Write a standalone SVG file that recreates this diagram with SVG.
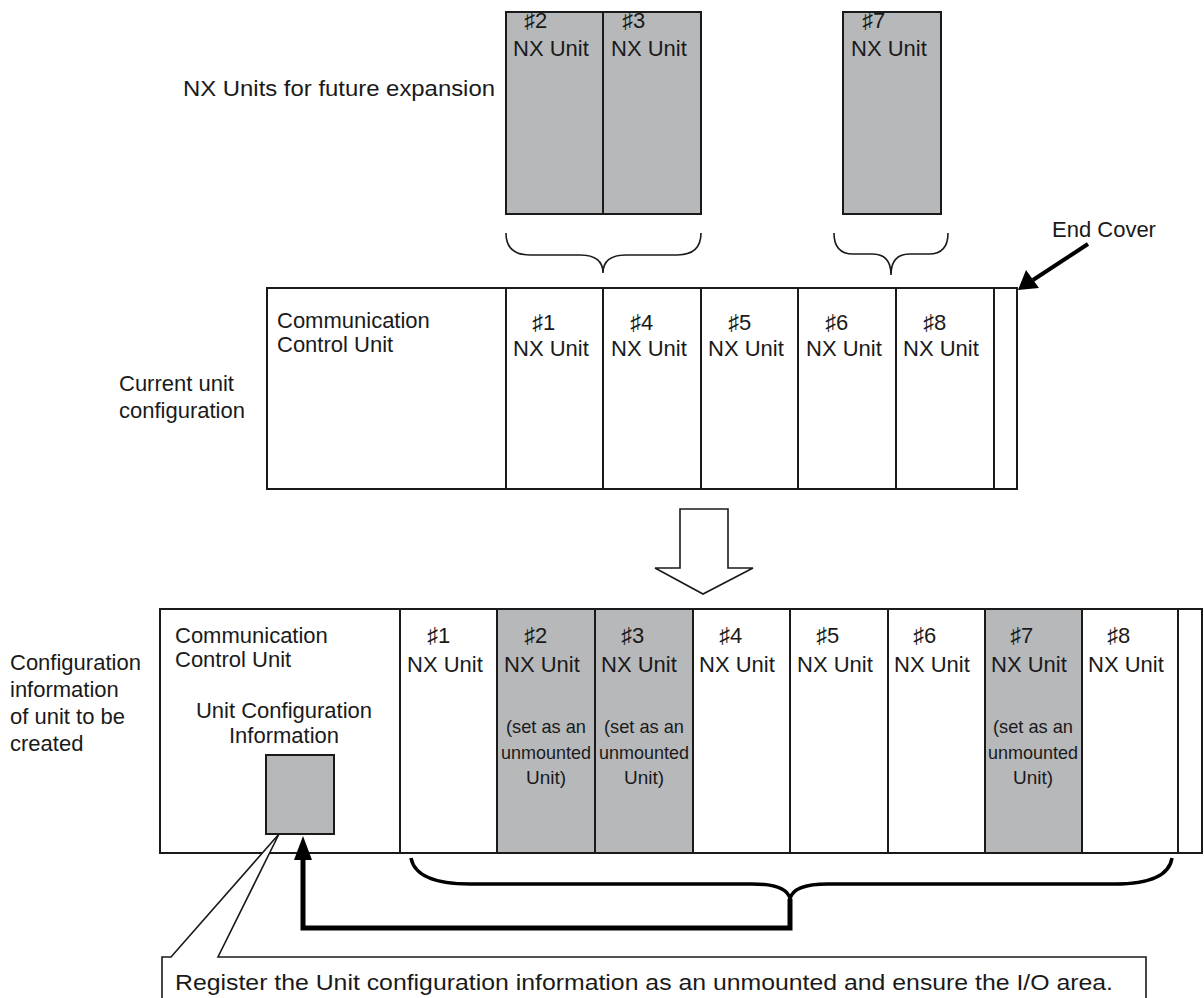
<svg xmlns="http://www.w3.org/2000/svg" width="1204" height="998" viewBox="0 0 1204 998">
<style>
text{font-family:"Liberation Sans",Arial,"DejaVu Sans",sans-serif;font-size:22px;fill:#1a1a1a}
.s{font-size:19px}
.c{text-anchor:middle}
.box{fill:#fff;stroke:#1a1a1a;stroke-width:2}
.g{fill:#b7b8ba;stroke:#1a1a1a;stroke-width:2}
.br{fill:none;stroke:#1a1a1a;stroke-width:1.6}
</style>

<!-- future expansion units -->
<g id="future-label"><text x="183" y="96" textLength="312" lengthAdjust="spacingAndGlyphs">NX Units for future expansion</text></g>
<g id="fut2"><rect class="g" x="506" y="12" width="97" height="202"/><text x="524" y="28">♯2</text><text x="513" y="56">NX Unit</text></g>
<g id="fut3"><rect class="g" x="603" y="12" width="98" height="202"/><text x="622" y="28">♯3</text><text x="611" y="56">NX Unit</text></g>
<g id="fut7"><rect class="g" x="843" y="12" width="98" height="202"/><text x="862" y="28">♯7</text><text x="851" y="56">NX Unit</text></g>

<!-- current configuration -->
<g id="cur-label"><text x="119" y="391">Current unit</text><text x="119" y="418">configuration</text></g>
<g id="cur-ccu"><rect class="box" x="267" y="288" width="239" height="201"/><text x="277" y="328">Communication</text><text x="277" y="352">Control Unit</text></g>
<g id="cur1"><rect class="box" x="506" y="288" width="97" height="201"/><text x="532" y="330">♯1</text><text x="513" y="356">NX Unit</text></g>
<g id="cur4"><rect class="box" x="603" y="288" width="98" height="201"/><text x="630" y="330">♯4</text><text x="611" y="356">NX Unit</text></g>
<g id="cur5"><rect class="box" x="701" y="288" width="97" height="201"/><text x="728" y="330">♯5</text><text x="708" y="356">NX Unit</text></g>
<g id="cur6"><rect class="box" x="798" y="288" width="98" height="201"/><text x="825" y="330">♯6</text><text x="806" y="356">NX Unit</text></g>
<g id="cur8"><rect class="box" x="896" y="288" width="98" height="201"/><text x="923" y="330">♯8</text><text x="903" y="356">NX Unit</text></g>
<g id="cur-end"><rect class="box" x="994" y="288" width="23" height="201"/></g>
<g id="endcover-label"><text x="1052" y="237">End Cover</text></g>

<!-- transform arrow -->
<g id="big-arrow"><polygon points="680,509 728,509 728,568 753,568 703,594 655,568 680,568" fill="#fff" stroke="#1a1a1a" stroke-width="1.6"/></g>

<!-- configuration to be created -->
<g id="new-label"><text x="10" y="670">Configuration</text><text x="10" y="697">information</text><text x="10" y="724">of unit to be</text><text x="10" y="751">created</text></g>
<g id="new-ccu"><rect class="box" x="160" y="609" width="240" height="244"/><text x="175" y="643">Communication</text><text x="175" y="667">Control Unit</text>
<text class="c" x="284" y="718">Unit Configuration</text><text class="c" x="284" y="743">Information</text>
<rect class="g" x="266" y="755" width="68" height="79"/></g>
<g id="new1"><rect class="box" x="400" y="609" width="97" height="244"/><text x="427" y="643">♯1</text><text x="407" y="672">NX Unit</text></g>
<g id="new2"><rect class="g" x="497" y="609" width="98" height="244"/><text x="524" y="643">♯2</text><text x="504" y="672">NX Unit</text>
<text class="s c" x="546" y="733" textLength="80" lengthAdjust="spacingAndGlyphs">(set as an</text><text class="s c" x="546" y="759" textLength="90" lengthAdjust="spacingAndGlyphs">unmounted</text><text class="s c" x="546" y="784">Unit)</text></g>
<g id="new3"><rect class="g" x="595" y="609" width="98" height="244"/><text x="621" y="643">♯3</text><text x="601" y="672">NX Unit</text>
<text class="s c" x="644" y="733" textLength="80" lengthAdjust="spacingAndGlyphs">(set as an</text><text class="s c" x="644" y="759" textLength="90" lengthAdjust="spacingAndGlyphs">unmounted</text><text class="s c" x="644" y="784">Unit)</text></g>
<g id="new4"><rect class="box" x="693" y="609" width="97" height="244"/><text x="719" y="643">♯4</text><text x="699" y="672">NX Unit</text></g>
<g id="new5"><rect class="box" x="790" y="609" width="98" height="244"/><text x="816" y="643">♯5</text><text x="797" y="672">NX Unit</text></g>
<g id="new6"><rect class="box" x="888" y="609" width="97" height="244"/><text x="913" y="643">♯6</text><text x="894" y="672">NX Unit</text></g>
<g id="new7"><rect class="g" x="985" y="609" width="97" height="244"/><text x="1010" y="643">♯7</text><text x="991" y="672">NX Unit</text>
<text class="s c" x="1033" y="733" textLength="80" lengthAdjust="spacingAndGlyphs">(set as an</text><text class="s c" x="1033" y="759" textLength="90" lengthAdjust="spacingAndGlyphs">unmounted</text><text class="s c" x="1033" y="784">Unit)</text></g>
<g id="new8"><rect class="box" x="1082" y="609" width="96" height="244"/><text x="1107" y="643">♯8</text><text x="1088" y="672">NX Unit</text></g>
<g id="new-end"><rect class="box" x="1178" y="609" width="24" height="244"/></g>

<!-- callout -->
<g id="callout"><polygon points="162,1002 162,957 171,957 279,834 218,957 1146,957 1146,1002" fill="#fff" stroke="#1a1a1a" stroke-width="1.6"/>
<text x="175" y="990" textLength="938" lengthAdjust="spacingAndGlyphs">Register the Unit configuration information as an unmounted and ensure the I/O area.</text></g>

<!-- connectors -->
<g id="connectors">
<path class="br" d="M506,233 Q506,255 530,255 L580,255 Q603,255 603,273 Q603,255 626,255 L677,255 Q701,255 701,233"/>
<path class="br" d="M834,233 Q834,254 853,254 L872,254 Q891,254 891,275 Q891,254 910,254 L929,254 Q948,254 948,233"/>
<line x1="1088" y1="244" x2="1033" y2="280" stroke="#000" stroke-width="4"/>
<polygon points="1018,290 1026,270 1039,288" fill="#000"/>
<path d="M411,858 Q416,884 470,884 L752,884 Q787,884 790,899 Q793,884 828,884 L1115,884 Q1168,884 1172,858" fill="none" stroke="#000" stroke-width="3.5"/>
<path d="M790,899 L790,928 L303,928 L303,856" fill="none" stroke="#000" stroke-width="5"/>
<polygon points="303,836 294,860 312,860" fill="#000"/>
</g>
</svg>
